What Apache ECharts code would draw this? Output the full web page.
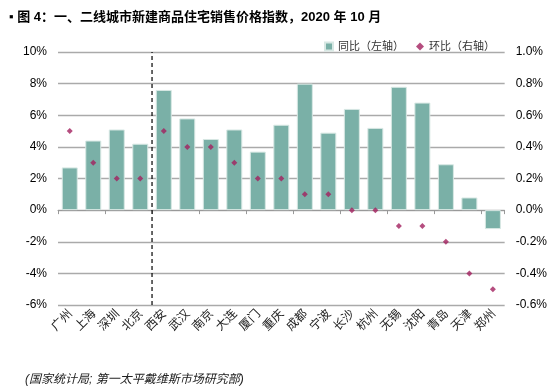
<!DOCTYPE html>
<html><head><meta charset="utf-8">
<script src="https://cdn.jsdelivr.net/npm/echarts@6/dist/echarts.min.js"></script>
<style>html,body{margin:0;padding:0;background:#fff;}#c{width:550px;height:388px;}</style>
</head><body><div id="c"></div>
<script>
const cities = ['广州','上海','深圳','北京','西安','武汉','南京','大连','厦门','重庆','成都','宁波','长沙','杭州','无锡','沈阳','青岛','天津','郑州'];
const yoy = [2.7,4.4,5.1,4.2,7.6,5.8,4.5,5.1,3.7,5.4,8.0,4.9,6.4,5.2,7.8,6.8,2.9,0.8,-1.2];
const mom = [0.5,0.3,0.2,0.2,0.5,0.4,0.4,0.3,0.2,0.2,0.1,0.1,0.0,0.0,-0.1,-0.1,-0.2,-0.4,-0.5];
const divider = [[4,-6],[4,10]];
const titleText = '▪ 图 4：一、二线城市新建商品住宅销售价格指数，2020 年 10 月';
const sourceText = '(国家统计局; 第一太平戴维斯市场研究部)';

const chart = echarts.init(document.getElementById('c'));
const font = 'Arial, "Liberation Sans", "Noto Sans CJK SC", sans-serif';
chart.setOption({
  animation:false,
  textStyle:{fontFamily:font},
  title:[
    {text:titleText, left:4, top:6, textStyle:{fontSize:13, fontWeight:'bold', color:'#000', fontFamily:font}},
    {text:sourceText, left:20, top:369, textStyle:{fontSize:12, fontWeight:'normal', fontStyle:'italic', color:'#222', fontFamily:font}}
  ],
  legend:{
    right:50, top:36, itemGap:12, itemWidth:8, itemHeight:8,
    textStyle:{fontSize:11, color:'#333', fontFamily:font},
    data:[{name:'同比（左轴）', icon:'rect'},{name:'环比（右轴）', icon:'diamond'}]
  },
  grid:{left:58, right:44, top:52, bottom:83},
  xAxis:[
    {type:'category', data:cities, position:'bottom',
     axisLine:{show:false, onZero:false}, axisTick:{show:false},
     axisLabel:{rotate:45, interval:0, fontSize:12, color:'#222', margin:6, fontFamily:'"Noto Sans CJK SC", sans-serif'}},
    {type:'category', data:cities, position:'bottom',
     axisLine:{show:true, onZero:true, lineStyle:{color:'#999', width:1}},
     axisTick:{show:true, length:4, inside:false, lineStyle:{color:'#999'}},
     axisLabel:{show:false}},
    {type:'value', min:0, max:19, show:false}
  ],
  yAxis:[
    {type:'value', min:-6, max:10, interval:2, position:'left',
     axisLine:{show:false}, axisTick:{show:false},
     axisLabel:{formatter:v=>v+'%', fontSize:12, color:'#000', margin:11},
     splitLine:{lineStyle:{color:'#aaaaaa', width:1.3}}},
    {type:'value', min:-0.6, max:1.0, interval:0.2, position:'right',
     axisLine:{show:false}, axisTick:{show:false},
     axisLabel:{formatter:v=>v.toFixed(1)+'%', fontSize:12, color:'#000', margin:11},
     splitLine:{show:false}}
  ],
  series:[
    {name:'同比（左轴）', type:'bar', data:yoy, xAxisIndex:0, yAxisIndex:0, barCategoryGap:'32%',
     itemStyle:{color:'#7ab0a7', borderColor:'#d8e8e4', borderWidth:1}},
    {name:'环比（右轴）', type:'scatter', data:mom, xAxisIndex:0, yAxisIndex:1, symbol:'diamond', symbolSize:6,
     itemStyle:{color:'#a3205f'}, z:5},
    {name:'divider', type:'line', data:divider, xAxisIndex:2, yAxisIndex:0, symbol:'none',
     lineStyle:{color:'#000', width:1.2, type:[4,3]}, z:6, silent:true}
  ]
});
</script></body></html>
